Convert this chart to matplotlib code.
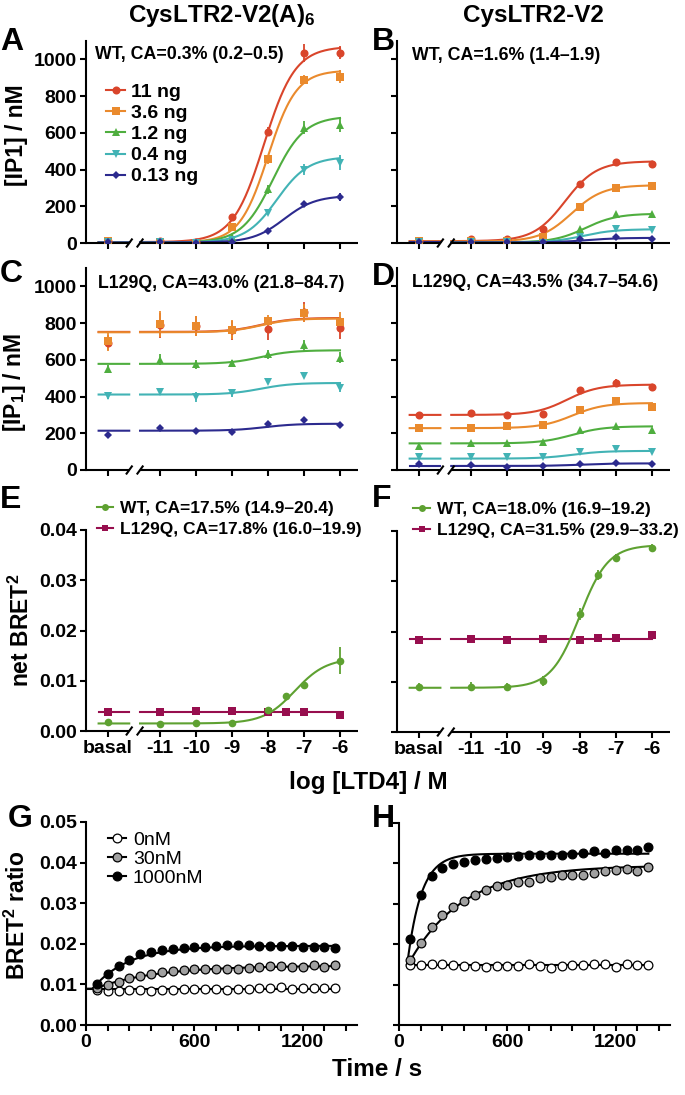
import numpy as np
import matplotlib
matplotlib.use("Agg")
import matplotlib.pyplot as plt
from matplotlib.lines import Line2D
from matplotlib.transforms import blended_transform_factory

W, H = 685, 1095

plt.rcParams['font.family'] = ['Liberation Sans', 'DejaVu Sans']
plt.rcParams['font.weight'] = 'bold'
plt.rcParams['mathtext.fontset'] = 'custom'
plt.rcParams['mathtext.rm'] = 'Liberation Sans:bold'
plt.rcParams['mathtext.it'] = 'Liberation Sans:bold'
plt.rcParams['mathtext.bf'] = 'Liberation Sans:bold'
plt.rcParams['axes.linewidth'] = 1.5

# ---- data: IP1 accumulation (panels A-D) ----
BASAL = -12.45
log_conc = [BASAL, -11, -10, -9, -8, -7, -6]
doses = ['11 ng', '3.6 ng', '1.2 ng', '0.4 ng', '0.13 ng']

A_ip1 = [[10, 10, 7, 140, 605, 1036, 1036],
         [12, 6, 2, 89, 455, 889, 906],
         [4, 3, 0, 31, 292, 627, 645],
         [6, 6, 2, 16, 165, 400, 438],
         [8, 5, 0, 7, 67, 212, 248]]
A_err = [[8, 5, 5, 10, 25, 50, 35],
         [10, 5, 3, 8, 25, 25, 35],
         [5, 3, 2, 5, 25, 35, 40],
         [4, 4, 2, 3, 12, 30, 40],
         [3, 3, 2, 2, 8, 8, 22]]
# fit parameters: bottom, top, logEC50, hill
A_fit = [(5, 1070, -8.11, 1.0), (3, 940, -8.0, 1.1), (2, 690, -7.86, 1.0),
         (3, 470, -7.75, 1.0), (3, 258, -7.55, 1.0)]

B_ip1 = [[13, 22, 22, 76, 322, 440, 431],
         [10, 10, 12, 34, 197, 302, 312],
         [5, 3, 3, 2, 78, 156, 156],
         [5, 5, 3, 2, 31, 74, 71],
         [8, 5, 3, 5, 20, 33, 24]]
B_err = [[3, 5, 3, 5, 10, 20, 10],
         [3, 3, 3, 4, 8, 10, 8],
         [2, 2, 2, 2, 8, 8, 6],
         [2, 2, 2, 2, 4, 5, 5],
         [2, 2, 2, 2, 3, 3, 3]]
B_fit = [(10, 445, -8.4, 1.0), (8, 315, -8.22, 1.0), (3, 160, -7.84, 1.0),
         (3, 75, -7.9, 1.0), (3, 28, -7.8, 1.0)]

C_ip1 = [[693, 787, 782, 760, 766, 860, 775],
         [700, 795, 785, 765, 811, 856, 805],
         [552, 601, 576, 583, 630, 679, 612],
         [404, 425, 398, 420, 480, 512, 447],
         [190, 226, 212, 208, 250, 271, 244]]
C_err = [[40, 70, 55, 50, 60, 55, 60],
         [50, 70, 55, 50, 35, 50, 55],
         [20, 30, 25, 15, 25, 30, 30],
         [15, 15, 25, 20, 8, 5, 20],
         [5, 15, 15, 5, 15, 5, 5]]
C_fit = [(752, 828, -8.2, 1.0), (750, 825, -8.2, 1.0), (578, 652, -8.2, 1.0),
         (411, 474, -8.2, 1.0), (214, 252, -8.1, 1.0)]

D_ip1 = [[300, 310, 300, 306, 433, 474, 452],
         [228, 226, 237, 246, 326, 376, 344],
         [130, 148, 148, 154, 217, 239, 217],
         [72, 69, 69, 69, 98, 112, 98],
         [33, 25, 18, 24, 31, 40, 31]]
D_err = [[5, 15, 5, 5, 8, 20, 15],
         [4, 4, 4, 4, 6, 6, 6],
         [3, 3, 3, 3, 5, 5, 5],
         [2, 2, 2, 2, 3, 3, 3],
         [2, 2, 2, 2, 2, 2, 2]]
D_fit = [(300, 465, -8.35, 1.0), (228, 365, -8.2, 1.0), (145, 238, -8.2, 1.0),
         (62, 104, -8.2, 1.0), (22, 36, -8.0, 1.0)]

# ---- data: net BRET2 (panels E-F) ----
log_conc_bret = [BASAL, -11, -10, -9, -8, -7.5, -7, -6]
E_wt = [0.0017, 0.0013, 0.0015, 0.0015, 0.0042, 0.0070, 0.0091, 0.0140]
E_wt_err = [0.0002, 0.0002, 0.0002, 0.0002, 0.0002, 0.0002, 0.0008, 0.0027]
E_mut = [0.0037, 0.0037, 0.0039, 0.0039, 0.0037, 0.0037, 0.0037, 0.0032]
E_wt_fit = (0.0015, 0.0145, -7.25, 1.0)
E_mut_fit = (0.0038, 0.0038, -8.0, 1.0)
E_labels = ['WT, CA=17.5% (14.9–20.4)', 'L129Q, CA=17.8% (16.0–19.9)']

F_wt = [0.0090, 0.0090, 0.0089, 0.0102, 0.0235, 0.0313, 0.0347, 0.0366]
F_wt_err = [0.0008, 0.0009, 0.0008, 0.0010, 0.0012, 0.0010, 0.0008, 0.0008]
F_mut = [0.0183, 0.0185, 0.0184, 0.0185, 0.0184, 0.0187, 0.0187, 0.0194]
F_wt_fit = (0.0088, 0.0372, -8.0, 1.1)
F_mut_fit = (0.0185, 0.0185, -8.0, 1.0)
F_labels = ['WT, CA=18.0% (16.9–19.2)', 'L129Q, CA=31.5% (29.9–33.2)']

# ---- data: BRET2 kinetics (panels G-H) ----
time_s = list(range(60, 1381, 60))
kin_labels = ['0nM', '30nM', '1000nM']
G_0 = [0.0086, 0.0084, 0.0084, 0.0086, 0.0086, 0.0084, 0.0086, 0.0087, 0.0088, 0.0088,
       0.0089, 0.0088, 0.0087, 0.0088, 0.0088, 0.0090, 0.0092, 0.0093, 0.0089, 0.0091,
       0.0091, 0.0090, 0.0091]
G_30 = [0.0092, 0.0098, 0.0105, 0.0115, 0.0120, 0.0125, 0.0130, 0.0134, 0.0136, 0.0138,
        0.0138, 0.0138, 0.0138, 0.0139, 0.0141, 0.0143, 0.0145, 0.0145, 0.0144, 0.0143,
        0.0147, 0.0143, 0.0147]
G_1000 = [0.0102, 0.0125, 0.0146, 0.0160, 0.0174, 0.0180, 0.0184, 0.0187, 0.0189, 0.0192,
          0.0192, 0.0195, 0.0197, 0.0197, 0.0198, 0.0194, 0.0194, 0.0194, 0.0194, 0.0193,
          0.0193, 0.0192, 0.0190]
H_0 = [0.0148, 0.0148, 0.0150, 0.0150, 0.0148, 0.0146, 0.0146, 0.0144, 0.0145, 0.0146,
       0.0146, 0.0150, 0.0146, 0.0141, 0.0145, 0.0148, 0.0148, 0.0150, 0.0150, 0.0144,
       0.0150, 0.0148, 0.0148]
H_30 = [0.0160, 0.0204, 0.0243, 0.0273, 0.0292, 0.0308, 0.0322, 0.0335, 0.0343, 0.0347,
        0.0354, 0.0355, 0.0364, 0.0366, 0.0372, 0.0372, 0.0372, 0.0376, 0.0381, 0.0384,
        0.0387, 0.0381, 0.0390]
H_1000 = [0.0212, 0.0321, 0.0368, 0.0388, 0.0399, 0.0403, 0.0409, 0.0411, 0.0414, 0.0415,
          0.0419, 0.0420, 0.0422, 0.0422, 0.0422, 0.0424, 0.0425, 0.0430, 0.0425, 0.0434,
          0.0434, 0.0434, 0.0440]
# one-phase association fits: y0, plateau, k, t0
G_fit = [(0.0089, 0.0089, 0.003, 0), (0.0089, 0.0146, 0.003, 45), (0.0089, 0.0195, 0.005, 35)]
H_fit = [(0.0148, 0.0148, 0.003, 45), (0.0148, 0.0395, 0.0033, 48), (0.0148, 0.0424, 0.013, 45)]

ip1_colors = ['#d9452b', '#ea8a2d', '#4fae3f', '#42b3b5', '#2c2a8e']
ip1_markers = ['o', 's', '^', 'v', 'D']
ip1_ms = [5.8, 5.8, 5.8, 5.8, 4.2]
wt_color, mut_color = '#5ea131', '#970e4e'
kin_fill = ['#ffffff', '#a0a0a0', '#000000']

BREAK_L, BREAK_R = -11.85, -11.55
TICK_FS = 14
LW = 1.5


def fx(px):
    return px / W


def fy(py):
    return 1 - py / H


def add_ax(l, t, r, b):
    return fig.add_axes([fx(l), fy(b), (r - l) / W, (b - t) / H])


def hill(x, p):
    bottom, top, ec50, n = p
    x = np.asarray(x, dtype=float)
    return bottom + (top - bottom) / (1 + 10 ** ((ec50 - x) * n))


def assoc(t, p):
    y0, plat, k, t0 = p
    t = np.asarray(t, dtype=float)
    return y0 + (plat - y0) * (1 - np.exp(-k * np.clip(t - t0, 0, None)))


def style_conc_axis(ax, ylim, yticks, ylabels, xlabels):
    ax.set_xlim(-13.05, -5.5)
    ax.set_ylim(*ylim)
    for s in ['top', 'right', 'bottom']:
        ax.spines[s].set_visible(False)
    ax.set_yticks(yticks)
    ax.set_yticklabels(ylabels if ylabels else [''] * len(yticks))
    ax.set_xticks(log_conc)
    if xlabels:
        ax.set_xticklabels(['basal', '-11', '-10', '-9', '-8', '-7', '-6'])
    else:
        ax.set_xticklabels([''] * len(log_conc))
    ax.tick_params(direction='out', length=4.5, width=LW, labelsize=TICK_FS, pad=2)
    tr = blended_transform_factory(ax.transData, ax.transAxes)
    kw = dict(color='k', lw=LW, transform=tr, clip_on=False, solid_capstyle='butt')
    ax.plot([-13.05, BREAK_L], [0, 0], **kw)
    ax.plot([BREAK_R, -5.5], [0, 0], **kw)
    for xb in (BREAK_L, BREAK_R):
        ax.plot([xb - 0.09, xb + 0.09], [-0.022, 0.022], **kw)


def draw_fit(ax, p, color):
    xb = np.linspace(-12.7, BREAK_L, 10)
    xm = np.linspace(BREAK_R, -6, 200)
    ax.plot(xb, hill(xb, p), color=color, lw=1.5, zorder=2)
    ax.plot(xm, hill(xm, p), color=color, lw=1.5, zorder=2)


def ip1_panel(ax, vals, errs, fits):
    for i in range(len(doses)):
        draw_fit(ax, fits[i], ip1_colors[i])
        ax.errorbar(log_conc, vals[i], yerr=errs[i], fmt=ip1_markers[i], color=ip1_colors[i],
                    ms=ip1_ms[i], mew=0, capsize=3.5, elinewidth=1.3, capthick=1.3, zorder=3)


fig = plt.figure(figsize=(W / 100, H / 100), dpi=100)

ip1_ticks = [0, 200, 400, 600, 800, 1000]
ip1_ticklabels = ['0', '200', '400', '600', '800', '1000']

axA = add_ax(86, 41, 358, 243)
ip1_panel(axA, A_ip1, A_err, A_fit)
style_conc_axis(axA, (0, 1100), ip1_ticks, ip1_ticklabels, False)
handles = [Line2D([], [], color=ip1_colors[i], marker=ip1_markers[i], ms=ip1_ms[i], mew=0, lw=1.5)
           for i in range(len(doses))]
axA.legend(handles, doses, loc='upper left', bbox_to_anchor=(0.075, 0.79), frameon=False,
           fontsize=14, handlelength=0.95, handletextpad=0.3, labelspacing=0.18, borderpad=0,
           borderaxespad=0)

axB = add_ax(397, 41, 670, 243)
ip1_panel(axB, B_ip1, B_err, B_fit)
style_conc_axis(axB, (0, 1100), ip1_ticks, None, False)

axC = add_ax(86, 268, 358, 470)
ip1_panel(axC, C_ip1, C_err, C_fit)
style_conc_axis(axC, (0, 1100), ip1_ticks, ip1_ticklabels, False)

axD = add_ax(397, 268, 670, 470)
ip1_panel(axD, D_ip1, D_err, D_fit)
style_conc_axis(axD, (0, 1100), ip1_ticks, None, False)

bret_ticks = [0, 0.01, 0.02, 0.03, 0.04]
bret_ticklabels = ['0.00', '0.01', '0.02', '0.03', '0.04']


def bret_panel(ax, wt, wt_err, mut, wt_fit, mut_fit, labels, anchor):
    draw_fit(ax, mut_fit, mut_color)
    draw_fit(ax, wt_fit, wt_color)
    ax.errorbar(log_conc_bret, mut, fmt='s', color=mut_color, ms=5.5, mew=0, zorder=3)
    ax.errorbar(log_conc_bret, wt, yerr=wt_err, fmt='o', color=wt_color, ms=5.5, mew=0,
                capsize=3.5, elinewidth=1.3, capthick=1.3, zorder=3)
    hs = [Line2D([], [], color=wt_color, marker='o', ms=5, mew=0, lw=1.5),
          Line2D([], [], color=mut_color, marker='s', ms=5, mew=0, lw=1.5)]
    ax.legend(hs, labels, loc='lower left', bbox_to_anchor=anchor, frameon=False,
              fontsize=12.5, handlelength=0.95, handletextpad=0.4, labelspacing=0.35,
              borderpad=0, borderaxespad=0)


axE = add_ax(86, 530, 358, 731)
bret_panel(axE, E_wt, E_wt_err, E_mut, E_wt_fit, E_mut_fit, E_labels, (0.04, 0.965))
style_conc_axis(axE, (0, 0.04), bret_ticks, bret_ticklabels, True)

axF = add_ax(397, 531, 670, 732)
bret_panel(axF, F_wt, F_wt_err, F_mut, F_wt_fit, F_mut_fit, F_labels, (0.06, 0.965))
style_conc_axis(axF, (0, 0.04), bret_ticks, None, True)


def kin_panel(ax, series, fits, t_start, ylabels):
    tt = np.linspace(t_start, 1380, 300)
    for i in range(3):
        ax.plot(tt, assoc(tt, fits[i]), color='k', lw=1.5, zorder=2)
        ax.plot(time_s, series[i], 'o', mfc=kin_fill[i], mec='k', mew=0.9, ms=6.3,
                linestyle='none', zorder=3)
    ax.set_xlim(0, 1500)
    ax.set_ylim(0, 0.05)
    for s in ['top', 'right']:
        ax.spines[s].set_visible(False)
    ax.set_xticks(range(0, 1500, 120))
    ax.set_xticklabels([str(t) if t in (0, 600, 1200) else '' for t in range(0, 1500, 120)])
    ax.set_yticks([0, 0.01, 0.02, 0.03, 0.04, 0.05])
    if ylabels:
        ax.set_yticklabels(['0.00', '0.01', '0.02', '0.03', '0.04', '0.05'])
    else:
        ax.set_yticklabels([''] * 6)
    ax.tick_params(direction='out', length=4.5, width=LW, labelsize=TICK_FS, pad=2)


axG = add_ax(86, 822, 357, 1025)
kin_panel(axG, [G_0, G_30, G_1000], G_fit, 0, True)
kh = [Line2D([], [], color='k', marker='o', mfc=kin_fill[i], mec='k', mew=0.9, ms=6.3, lw=1.5)
      for i in range(3)]
axG.legend(kh, kin_labels, loc='upper left', bbox_to_anchor=(0.08, 0.955), frameon=False,
           prop={'size': 14, 'weight': 'normal'}, handlelength=0.95, handletextpad=0.35,
           labelspacing=0.08, borderpad=0, borderaxespad=0)

axH = add_ax(399, 823, 670, 1025)
kin_panel(axH, [H_0, H_30, H_1000], H_fit, 45, False)

# ---- texts ----
fig.text(fx(222), fy(22), 'CysLTR2-V2(A)$_6$', ha='center', va='baseline', size=17.5)
fig.text(fx(533), fy(22), 'CysLTR2-V2', ha='center', va='baseline', size=17.5)

for letter, x, y in [('A', 0, 50), ('B', 372, 50), ('C', 0, 282), ('D', 372, 285),
                     ('E', 0, 508), ('F', 372, 507), ('G', 8, 827), ('H', 372, 827)]:
    fig.text(fx(x), fy(y), letter, ha='left', va='baseline', size=23)

for txt, x, y in [('WT, CA=0.3% (0.2–0.5)', 95, 59), ('WT, CA=1.6% (1.4–1.9)', 412, 60),
                  ('L129Q, CA=43.0% (21.8–84.7)', 98, 288),
                  ('L129Q, CA=43.5% (34.7–54.6)', 412, 287)]:
    fig.text(fx(x), fy(y), txt, ha='left', va='baseline', size=12.8)

fig.text(fx(17), fy(135), '[IP1] / nM', rotation=90, ha='center', va='center', size=16.5)
fig.text(fx(15), fy(382), '[IP$_1$] / nM', rotation=90, ha='center', va='center', size=16.5)
fig.text(fx(21), fy(630), 'net BRET$^2$', rotation=90, ha='center', va='center', size=16.5)
fig.text(fx(17), fy(915), 'BRET$^2$ ratio', rotation=90, ha='center', va='center', size=16.5)
fig.text(fx(368), fy(783), 'log [LTD4] / M', ha='center', va='center', size=17.5)
fig.text(fx(377), fy(1070), 'Time / s', ha='center', va='center', size=17.5)

fig.savefig('out.png', dpi=100)
